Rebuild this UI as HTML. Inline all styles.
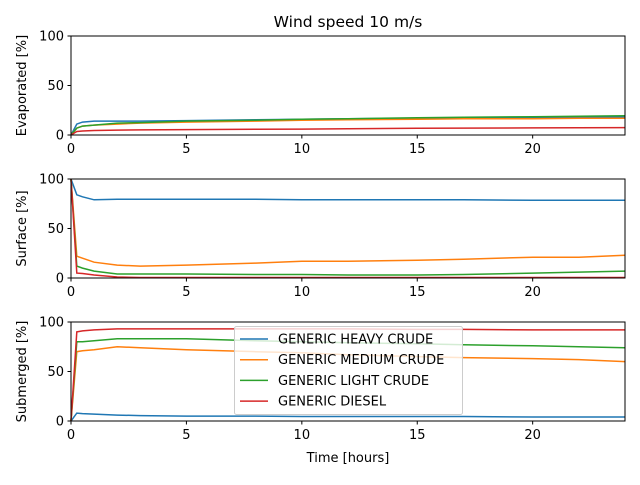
<!DOCTYPE html>
<html><head><meta charset="utf-8"><style>
body{margin:0;background:#fff;}
svg{font-family:"DejaVu Sans","Liberation Sans",sans-serif;}
</style></head><body>
<svg id="c" width="640" height="480" xmlns="http://www.w3.org/2000/svg"></svg>
<script>
const times = [0,0.25,0.5,1,2,3,5,8,10,12,15,17,20,22,24];
const seriesNames = ["GENERIC HEAVY CRUDE","GENERIC MEDIUM CRUDE","GENERIC LIGHT CRUDE","GENERIC DIESEL"];
const colors = ["#1f77b4","#ff7f0e","#2ca02c","#d62728"];
const evapHeavy  = [0,11,13,14,14,14,14.5,15.5,16,16.5,17,17.5,18,18,18.5];
const evapMedium = [0,7,9,10,11,12,13,14,15,15.5,16,16.5,16.5,17,17];
const evapLight  = [0,7,9,10,12,12.5,14,15,16,16.5,17.5,18,18.5,19,19.5];
const evapDiesel = [0,3.5,4,4.5,5,5.2,5.5,5.8,6,6.3,6.8,7,7.2,7.4,7.5];
const surfHeavy  = [100,84,82,79,79.5,79.5,79.5,79.5,79,79,79,79,78.5,78.5,78.5];
const surfMedium = [100,22,20,16,13,12,13,15,17,17,18,19,21,21,23];
const surfLight  = [100,12,10,7,4,4,4,3.5,3.5,3,3,3.5,5,6,7];
const surfDiesel = [100,5,4.5,3,1,0.5,0.5,0.5,0.5,0.5,0.5,0.5,0.5,0.5,0.5];
const subHeavy   = [0,8,7.5,7,6,5.5,5,5,4.5,4.5,4.5,4.5,4,4,4];
const subMedium  = [0,70,71,72,75,74,72,70,69,67,65,64,63,62,60];
const subLight   = [0,80,80,81,83,83,83,81,80,79,78,77,76,75,74];
const subDiesel  = [0,90,91,92,93,93,93,93,93,93,92.5,92.5,92,92,92];
const yTicks = [0,50,100];
const xTicks = [0,5,10,15,20];

const svg=document.getElementById('c');
const NS="http://www.w3.org/2000/svg";
function mk(tag,attrs,parent){const e=document.createElementNS(NS,tag);for(const k in attrs)e.setAttribute(k,attrs[k]);(parent||svg).appendChild(e);return e;}
const X0=71,X1=625;
const xs=t=>X0+(t/24)*(X1-X0);
const panels=[
 {top:36,bot:135,label:"Evaporated [%]",data:[evapHeavy,evapMedium,evapLight,evapDiesel],name:"evaporated"},
 {top:179,bot:278,label:"Surface [%]",data:[surfHeavy,surfMedium,surfLight,surfDiesel],name:"surface"},
 {top:322,bot:421,label:"Submerged  [%]",data:[subHeavy,subMedium,subLight,subDiesel],name:"submerged"}
];
panels.forEach(p=>{
 const g=mk('g',{});
 
 
 const ys=v=>p.bot-(v/100)*(p.bot-p.top);
 p.data.forEach((arr,i)=>{
  const d=arr.map((v,j)=>(j?'L':'M')+xs(times[j]).toFixed(1)+','+ys(v).toFixed(1)).join('');
  const l=mk('path',{d:d,fill:'none',stroke:colors[i],'stroke-width':1.5},g);
  
  
 });
 mk('rect',{x:X0,y:p.top,width:X1-X0,height:p.bot-p.top,fill:'none',stroke:'#000','stroke-width':1},g);
 yTicks.forEach(v=>{
  mk('line',{x1:X0-3.5,x2:X0,y1:ys(v),y2:ys(v),stroke:'#000'},g);
  const t=mk('text',{x:X0-7,y:ys(v)+4.5,'text-anchor':'end','font-size':13},g);t.textContent=v;
  
  
 });
 xTicks.forEach(v=>{
  mk('line',{x1:xs(v),x2:xs(v),y1:p.bot,y2:p.bot+3.5,stroke:'#000'},g);
  const t=mk('text',{x:xs(v),y:p.bot+18,'text-anchor':'middle','font-size':13},g);t.textContent=v;
  
  
 });
 const yl=mk('text',{x:0,y:0,'text-anchor':'middle','font-size':13,transform:`translate(26,${(p.top+p.bot)/2}) rotate(-90)`},g);
 yl.textContent=p.label;
 
 
});
const title=mk('text',{x:348,y:27,'text-anchor':'middle','font-size':15.5});
title.textContent="Wind speed 10 m/s";


const xl=mk('text',{x:348,y:462,'text-anchor':'middle','font-size':13});
xl.textContent="Time [hours]";


const lg=mk('g',{});


mk('rect',{x:234.5,y:326.5,width:228,height:88,rx:2,fill:'#fff','fill-opacity':0.8,stroke:'#ccc'},lg);
seriesNames.forEach((n,i)=>{
 const y=339+i*20.7;
 const e=mk('g',{},lg);
 
 
 mk('line',{x1:240,x2:268,y1:y,y2:y,stroke:colors[i],'stroke-width':1.5},e);
 const t=mk('text',{x:278,y:y+4.5,'font-size':13},e);t.textContent=n;
});
</script>
</body></html>
